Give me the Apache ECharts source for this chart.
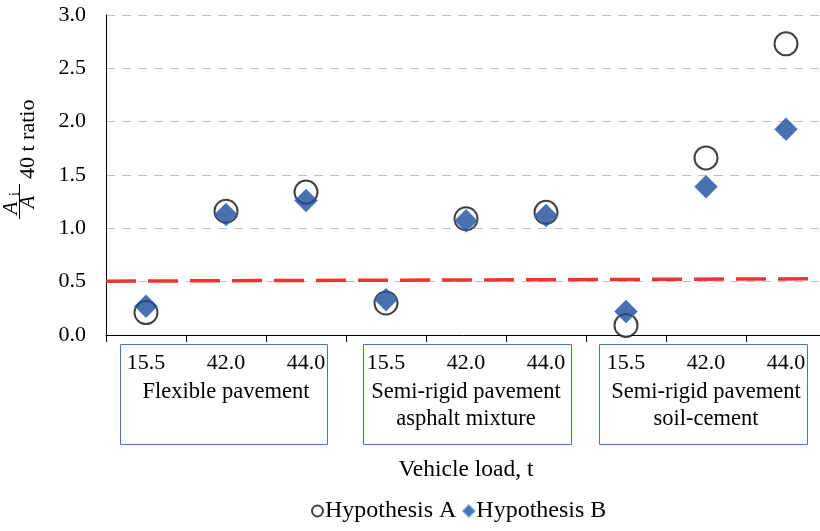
<!DOCTYPE html>
<html>
<head>
<meta charset="utf-8">
<script src="https://cdn.jsdelivr.net/npm/echarts@6/dist/echarts.min.js"></script>
<style>html,body{margin:0;padding:0;background:#fff;}#c{width:820px;height:531px;}</style>
</head>
<body>
<div id="c"></div>
<script>
const loads = ['15.5','42.0','44.0','15.5','42.0','44.0','15.5','42.0','44.0'];
const groups = ['Flexible pavement','Semi-rigid pavement\nasphalt mixture','Semi-rigid pavement\nsoil-cement'];
const hypA = [0.21, 1.16, 1.34, 0.30, 1.09, 1.15, 0.09, 1.66, 2.73];
const hypB = [0.27, 1.13, 1.26, 0.33, 1.07, 1.12, 0.22, 1.39, 1.93];
const redLine = [0.505, 0.527];
const yTicks = [0, 0.5, 1.0, 1.5, 2.0, 2.5, 3.0];

const FONT = '"Liberation Serif", "Times New Roman", serif';
const chart = echarts.init(document.getElementById('c'));

const boxes = [[120,344,207,100],[363,344,208,100],[599,344,208,100]];

chart.setOption({
  animation: false,
  backgroundColor: '#fff',
  grid: {left: 106, top: 15, width: 720, bottom: 196, containLabel: false, outerBoundsMode: 'none'},
  legend: {
    data: ['Hypothesis A','Hypothesis B'],
    bottom: 3, left: 306,
    itemWidth: 11, itemHeight: 11, itemGap: 6,
    textStyle: {fontFamily: FONT, fontSize: 24, color: '#000', padding: [0,0,0,-3]}
  },
  xAxis: [
    {
      type: 'category', data: loads, gridIndex: 0, boundaryGap: true,
      axisLine: {show: true, lineStyle: {color: '#000', width: 1}},
      axisTick: {show: true, length: 7, lineStyle: {color: '#000'}},
      axisLabel: {fontFamily: FONT, fontSize: 22, color: '#000', margin: 17, lineHeight: 22, interval: 0},
      name: 'Vehicle load, t', nameLocation: 'middle', nameGap: 123,
      nameTextStyle: {fontFamily: FONT, fontSize: 23.5, color: '#000'},
      splitLine: {show: false}
    },
    {
      type: 'category', data: groups, gridIndex: 0, position: 'bottom',
      axisLine: {show: false}, axisTick: {show: false}, splitLine: {show: false},
      axisLabel: {fontFamily: FONT, fontSize: 22.5, color: '#000', margin: 44, lineHeight: 27, interval: 0, align: 'center'}
    },
    {
      type: 'value', min: 0, max: 1, show: false, gridIndex: 0
    }
  ],
  yAxis: {
    type: 'value', min: yTicks[0], max: yTicks[yTicks.length-1], interval: 0.5,
    axisLine: {show: true, lineStyle: {color: '#000', width: 1}},
    axisTick: {show: false},
    axisLabel: {fontFamily: FONT, fontSize: 22, color: '#000', margin: 20, formatter: v => v.toFixed(1)},
    splitLine: {show: true, lineStyle: {color: '#bfbfbf', type: [9, 7], width: 1}}
  },
  series: [
    {
      name: 'Red', type: 'line', xAxisIndex: 2, data: [[0, redLine[0]], [1, redLine[1]]],
      symbol: 'none', lineStyle: {color: '#ee3330', width: 3.5, type: [30, 12]}, z: 2, silent: true
    },
    {
      name: 'Hypothesis A', type: 'scatter', xAxisIndex: 0, data: hypA,
      symbol: 'emptyCircle', symbolSize: 23,
      itemStyle: {color: '#111', borderColor: '#111', borderWidth: 1.5}, z: 3
    },
    {
      name: 'Hypothesis B', type: 'scatter', xAxisIndex: 0, data: hypB,
      symbol: 'diamond', symbolSize: 23,
      itemStyle: {color: '#1d4c9c', borderColor: '#4a8ad0', borderWidth: 0.7}, z: 4
    }
  ],
  graphic: [
    ...boxes.map(b => ({type: 'rect', shape: {x: b[0]+0.5, y: b[1]+0.5, width: b[2], height: b[3]}, style: {fill: 'none', stroke: '#4472c4', lineWidth: 1}, z: 1})),
    {
      type: 'group', x: 0, y: 220, rotation: Math.PI/2,
      children: [
        {type: 'text', x: 12, y: 11, style: {text: 'A', font: 'italic 21px ' + FONT, fill: '#000', textAlign: 'center', textVerticalAlign: 'middle'}},
        {type: 'text', x: 26, y: 15, style: {text: 'i', font: '14px ' + FONT, fill: '#000', textAlign: 'center', textVerticalAlign: 'middle'}},
        {type: 'line', shape: {x1: 1, y1: 19.5, x2: 36, y2: 19.5}, style: {stroke: '#000', lineWidth: 1}},
        {type: 'text', x: 18, y: 28, style: {text: 'A', font: 'italic 21px ' + FONT, fill: '#000', textAlign: 'center', textVerticalAlign: 'middle'}},
        {type: 'text', x: 41, y: 28, style: {text: '40 t ratio', font: '22px ' + FONT, fill: '#000', textAlign: 'left', textVerticalAlign: 'middle'}}
      ]
    }
  ]
});
</script>
</body>
</html>
